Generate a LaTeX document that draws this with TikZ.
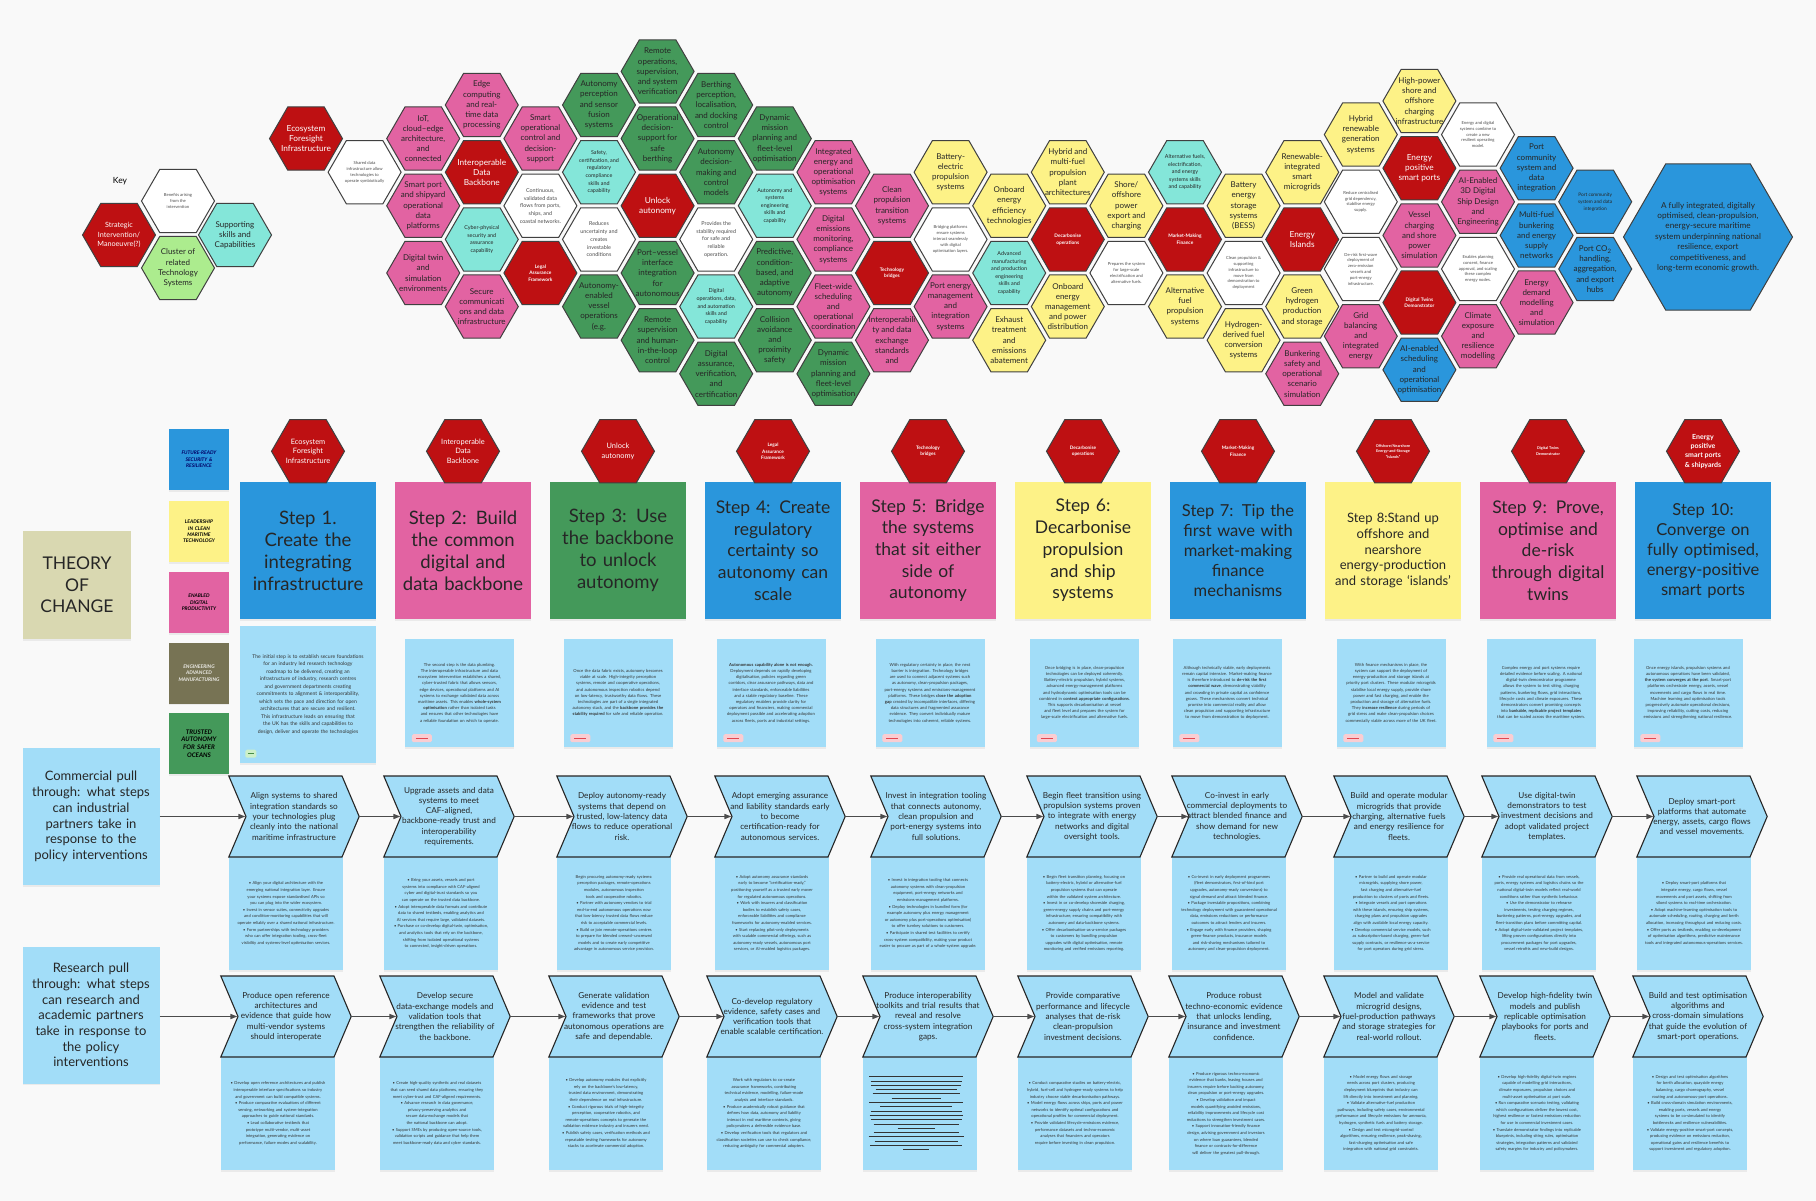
\documentclass[tikz,border=0pt]{standalone}
\usepackage{fontspec}
\setmainfont{Lato}
\usepackage{tikz}
\usetikzlibrary{positioning,shapes.geometric,shapes.symbols,arrows.meta,shadows}
\newcommand{\fsz}[2]{\fontsize{#1}{#2}\selectfont}
\hyphenpenalty=10000
\exhyphenpenalty=10000
\definecolor{pagebg}{RGB}{249,249,249}
\definecolor{hexred}{RGB}{190,16,18}
\definecolor{hexpink}{RGB}{226,99,162}
\definecolor{hexgreen}{RGB}{68,153,90}
\definecolor{hexyellow}{RGB}{253,242,135}
\definecolor{hexcyan}{RGB}{132,230,217}
\definecolor{hexblue}{RGB}{42,150,220}
\definecolor{keygreen}{RGB}{172,236,142}
\definecolor{olive}{RGB}{119,115,84}
\definecolor{theory}{RGB}{217,216,177}
\definecolor{noteblue}{RGB}{162,221,248}
\definecolor{tagred}{RGB}{226,70,80}
\definecolor{tagpink}{RGB}{250,205,210}
\definecolor{taggreen}{RGB}{70,140,70}
\definecolor{tagmint}{RGB}{205,240,200}

\begin{document}
\begin{tikzpicture}[x=1pt,y=-1pt,
    hexa/.style={regular polygon,regular polygon sides=6,minimum size=73pt,inner sep=0pt,draw=black!75,line width=1pt},
    hextxt/.style={align=center,inner sep=0pt,text=black!85},
    hxred/.style={fill=hexred},   htred/.style={text=white,font=\fsz{8.3}{10}},
    hxrsm/.style={fill=hexred},   htrsm/.style={text=white,font=\bfseries\fsz{4.8}{6.6}},
    hxpink/.style={fill=hexpink}, htpink/.style={font=\fsz{8}{10.2}},
    hxgreen/.style={fill=hexgreen}, htgreen/.style={font=\fsz{8}{10.2}},
    hxyellow/.style={fill=hexyellow}, htyellow/.style={font=\fsz{8}{10.2}},
    hxblue/.style={fill=hexblue}, htblue/.style={font=\fsz{8}{10.2}},
    hxbsm/.style={fill=hexblue},  htbsm/.style={font=\fsz{4.8}{7}},
    hxcyan/.style={fill=hexcyan}, htcyan/.style={font=\fsz{5.4}{7.6}},
    hxwhite/.style={fill=white},  htwhite/.style={font=\fsz{5.4}{7.7},text=black!70},
    hxwsm/.style={fill=white},    htwsm/.style={font=\fsz{4.2}{5.8},text=black!70},
    note/.style={drop shadow={opacity=0.12,shadow xshift=0pt,shadow yshift=-1.5pt}},
    stepbox/.style={rectangle,note,minimum width=136pt,minimum height=137pt,text width=132pt,align=center,inner sep=0pt,text=black!85},
    sta/.style={font=\fsz{18.5}{22}}, stb/.style={font=\fsz{17.5}{21.7}},
    stc/.style={font=\fsz{16.5}{20}}, std/.style={font=\fsz{13}{15.7}},
    sdesc/.style={rectangle,note,fill=noteblue,minimum width=109pt,minimum height=108pt,text width=92pt,align=center,inner sep=0pt,font=\fsz{4.2}{6.2},text=black!80},
    tagbox/.style={rectangle,rounded corners=1.5pt,fill=tagpink,minimum width=20pt,minimum height=8pt,inner sep=0pt},
    cdesc/.style={rectangle,note,fill=noteblue,minimum width=114pt,minimum height=113pt,text width=98pt,align=center,inner sep=0pt,font=\fsz{4.1}{6.6},text=black!80},
    chev/.style={signal,signal to=east,signal from=west,signal pointer angle=134,fill=noteblue,draw=black!85,line width=1.1pt,minimum width=130pt,minimum height=81pt,inner ysep=1pt,inner xsep=-5pt,text width=106pt,align=center,font=\fsz{8.2}{10.3},text=black!85},
    pull/.style={rectangle,note,fill=noteblue,minimum width=137pt,minimum height=137pt,text width=124pt,align=center,font=\fsz{13}{15.7},text=black!85},
    theme/.style={rectangle,note,minimum width=60pt,minimum height=61pt,text width=56pt,align=center,inner sep=0pt,font=\bfseries\itshape\fsz{5}{6.3}},
    flow/.style={-{Triangle[length=7pt,width=5pt]},line width=1.5pt,draw=black!70}
    ]
    \fill[pagebg] (0,0) rectangle (1816,1201);
    \useasboundingbox (0,0) rectangle (1816,1201);

    % the key
    \node[font=\fsz{8.5}{10}] (key) at (120,181) {Key};
    \node[hexa,fill=hexred] (k1) at (119,235) {};
    \node[hextxt,text=white,font=\fsz{7.2}{9.6}] (k1t) at (k1) {Strategic\\Intervention/\\Manoeuvre(?)};
    \node[hexa,fill=white] (k2) at (178,201) {};
    \node[hextxt,htwsm] (k2t) at (k2) {Benefits arising\\from the\\intervention};
    \node[hexa,fill=keygreen] (k3) at (178,268) {};
    \node[hextxt,font=\fsz{8}{10.2}] (k3t) at (k3) {Cluster of\\related\\Technology\\Systems};
    \node[hexa,fill=hexcyan] (k4) at (235,235) {};
    \node[hextxt,font=\fsz{8}{10.2}] (k4t) at (k4) {Supporting\\skills and\\Capabilities};

    % the hexagon cluster
    \foreach \c/\r/\col/\txt in {
      0/2/red/{Ecosystem\\Foresight\\Infrastructure},
      1/3/wsm/{Shared data\\infrastructure allow\\technologies to\\operate symbiotically},
      2/2/pink/{IoT,\\cloud–edge\\architecture,\\and\\connected},
      2/4/pink/{Smart port\\and shipyard\\operational\\data\\platforms},
      2/6/pink/{Digital twin\\and\\simulation\\environments},
      3/1/pink/{Edge\\computing\\and real-\\time data\\processing},
      3/3/red/{Interoperable\\Data\\Backbone},
      3/5/cyan/{Cyber-physical\\security and\\assurance\\capability},
      3/7/pink/{Secure\\communicati\\ons and data\\infrastructure},
      4/2/pink/{Smart\\operational\\control and\\decision-\\support},
      4/4/white/{Continuous,\\validated data\\flows from ports,\\ships, and\\coastal networks.},
      4/6/rsm/{Legal\\Assurance\\Framework},
      5/1/green/{Autonomy\\perception\\and sensor\\fusion\\systems},
      5/3/cyan/{Safety,\\certification, and\\regulatory\\compliance\\skills and\\capability},
      5/5/white/{Reduces\\uncertainty and\\creates\\investable\\conditions},
      5/7/green/{Autonomy-\\enabled\\vessel\\operations\\(e.g.},
      6/0/green/{Remote\\operations,\\supervision,\\and system\\verification},
      6/2/green/{Operational\\decision-\\support for\\safe\\berthing},
      6/4/red/{Unlock\\autonomy},
      6/6/green/{Port–vessel\\interface\\integration\\for\\autonomous},
      6/8/green/{Remote\\supervision\\and human-\\in-the-loop\\control},
      7/1/green/{Berthing\\perception,\\localisation,\\and docking\\control},
      7/3/green/{Autonomy\\decision-\\making and\\control\\models},
      7/5/white/{Provides the\\stability required\\for safe and\\reliable\\operation.},
      7/7/cyan/{Digital\\operations, data,\\and automation\\skills and\\capability},
      7/9/green/{Digital\\assurance,\\verification,\\and\\certification},
      8/2/green/{Dynamic\\mission\\planning and\\fleet-level\\optimisation},
      8/4/cyan/{Autonomy and\\systems\\engineering\\skills and\\capability},
      8/6/green/{Predictive,\\condition-\\based, and\\adaptive\\autonomy},
      8/8/green/{Collision\\avoidance\\and\\proximity\\safety},
      9/3/pink/{Integrated\\energy and\\operational\\optimisation\\systems},
      9/5/pink/{Digital\\emissions\\monitoring,\\compliance\\systems},
      9/7/pink/{Fleet-wide\\scheduling\\and\\operational\\coordination},
      9/9/green/{Dynamic\\mission\\planning and\\fleet-level\\optimisation},
      10/4/pink/{Clean\\propulsion\\transition\\systems},
      10/6/rsm/{Technology\\bridges},
      10/8/pink/{Interoperabili\\ty and data\\exchange\\standards\\and},
      11/3/yellow/{Battery-\\electric\\propulsion\\systems},
      11/5/wsm/{Bridging platforms\\ensure systems\\interact seamlessly\\with digital\\optimisation layers.},
      11/7/pink/{Port energy\\management\\and\\integration\\systems},
      12/4/yellow/{Onboard\\energy\\efficiency\\technologies},
      12/6/cyan/{Advanced\\manufacturing\\and production\\engineering\\skills and\\capability},
      12/8/yellow/{Exhaust\\treatment\\and\\emissions\\abatement},
      13/3/yellow/{Hybrid and\\multi-fuel\\propulsion\\plant\\architectures},
      13/5/rsm/{Decarbonise\\operations},
      13/7/yellow/{Onboard\\energy\\management\\and power\\distribution},
      14/4/yellow/{Shore/\\offshore\\power\\export and\\charging},
      14/6/wsm/{Prepares the system\\for large-scale\\electrification and\\alternative fuels.},
      15/3/cyan/{Alternative fuels,\\electrification,\\and energy\\systems skills\\and capability},
      15/5/rsm/{Market-Making\\Finance},
      15/7/yellow/{Alternative\\fuel\\propulsion\\systems},
      16/4/yellow/{Battery\\energy\\storage\\systems\\(BESS)},
      16/6/wsm/{Clean propulsion \&\\supporting\\infrastructure to\\move from\\demonstration to\\deployment},
      16/8/yellow/{Hydrogen-\\derived fuel\\conversion\\systems},
      17/3/yellow/{Renewable-\\integrated\\smart\\microgrids},
      17/5/red/{Energy\\Islands},
      17/7/yellow/{Green\\hydrogen\\production\\and storage},
      17/9/pink/{Bunkering\\safety and\\operational\\scenario\\simulation},
      18/2/yellow/{Hybrid\\renewable\\generation\\systems},
      18/4/wsm/{Reduce centralised\\grid dependency,\\stabilise energy\\supply.},
      18/6/wsm/{De-risk first-wave\\deployment of\\zero-emission\\vessels and\\port-energy\\infrastructure.},
      18/8/pink/{Grid\\balancing\\and\\integrated\\energy},
      19/1/yellow/{High-power\\shore and\\offshore\\charging\\infrastructure},
      19/3/red/{Energy\\positive\\smart ports},
      19/5/pink/{Vessel\\charging\\and shore\\power\\simulation},
      19/7/rsm/{Digital Twins\\Demonstrator},
      19/9/blue/{AI-enabled\\scheduling\\and\\operational\\optimisation},
      20/2/wsm/{Energy and digital\\systems combine to\\create a new\\resilient operating\\model.},
      20/4/pink/{AI-Enabled\\3D Digital\\Ship Design\\and\\Engineering},
      20/6/wsm/{Enables planning\\consent, finance\\approval, and scaling\\these complex\\energy nodes.},
      20/8/pink/{Climate\\exposure\\and\\resilience\\modelling},
      21/3/blue/{Port\\community\\system and\\data\\integration},
      21/5/blue/{Multi-fuel\\bunkering\\and energy\\supply\\networks},
      21/7/pink/{Energy\\demand\\modelling\\and\\simulation},
      22/4/bsm/{Port community\\system and data\\integration},
      22/6/blue/{Port CO\textsubscript{2}\\handling,\\aggregation,\\and export\\hubs}}
    {
      \node[hexa,hx\col] (h\c-\r) at ({306+58.6*\c},{71.4+33.6*\r-4*(\c>17)}) {};
      \node[hextxt,ht\col] (t\c-\r) at (h\c-\r) {\txt};
    }
    % the outcome
    \node[hexa,fill=hexblue,minimum size=169pt] (goal) at (1708,237) {};
    \node[hextxt,font=\fsz{8.2}{10.4}] (goalt) at (goal) {A fully integrated, digitally\\optimised, clean-propulsion,\\energy-secure maritime\\system underpinning national\\resilience, export\\competitiveness, and\\long-term economic growth.};

    % theory of change and the themes
    \node[rectangle,note,fill=theory,minimum width=108pt,minimum height=108pt,align=center,font=\fsz{17.5}{21.7},text=black!85] (toc) at (77,585) {THEORY\\OF\\CHANGE};
    \node[theme,fill=hexblue,text=blue!40!black] (th1) at (199,459.5) {FUTURE-READY\\SECURITY \&\\RESILIENCE};
    \node[theme,fill=hexyellow] (th2) at (199,531.5) {LEADERSHIP\\IN CLEAN\\MARITIME\\TECHNOLOGY};
    \node[theme,fill=hexpink] (th3) at (199,602.5) {ENABLED\\DIGITAL\\PRODUCTIVITY};
    \node[theme,fill=olive,text=white!85!olive] (th4) at (199,673) {ENGINEERING\\ADVANCED\\MANUFACTURING};
    \node[theme,fill=hexgreen,font=\bfseries\itshape\fsz{6.3}{7.6}] (th5) at (199,743.5) {TRUSTED\\AUTONOMY\\FOR SAFER\\OCEANS};

    % the steps
    \foreach \i/\col/\sz/\txt in {
      1/blue/a/{Step 1.\\Create the\\integrating\\infrastructure},
      2/pink/a/{Step 2: Build\\the common\\digital and\\data backbone},
      3/green/a/{Step 3: Use\\the backbone\\to unlock\\autonomy},
      4/blue/b/{Step 4: Create\\regulatory\\certainty so\\autonomy can\\scale},
      5/pink/b/{Step 5: Bridge\\the systems\\that sit either\\side of\\autonomy},
      6/yellow/b/{Step 6:\\Decarbonise\\propulsion\\and ship\\systems},
      7/blue/c/{Step 7: Tip the\\first wave with\\market-making\\finance\\mechanisms},
      8/yellow/d/{Step 8:Stand up\\offshore and\\nearshore\\energy-production\\and storage ‘islands’},
      9/pink/b/{Step 9: Prove,\\optimise and\\de-risk\\through digital\\twins},
      10/blue/c/{Step 10:\\Converge on\\fully optimised,\\energy-positive\\smart ports}}
      \node[stepbox,fill=hex\col,st\sz] (s\i) at ({308+155*(\i-1)},550.5) {\txt};

    % the interventions above the steps
    \foreach \i/\ft/\txt in {
      1/{\fsz{7.4}{9.5}}/{Ecosystem\\Foresight\\Infrastructure},
      2/{\fsz{7.4}{9.5}}/{Interoperable\\Data\\Backbone},
      3/{\fsz{7.4}{9.5}}/{Unlock\\autonomy},
      4/{\bfseries\fsz{4.7}{6.6}}/{Legal\\Assurance\\Framework},
      5/{\bfseries\fsz{4.7}{6.6}}/{Technology\\bridges},
      6/{\bfseries\fsz{4.7}{6.6}}/{Decarbonise\\operations},
      7/{\bfseries\fsz{4.7}{6.6}}/{Market-Making\\Finance},
      8/{\bfseries\fsz{3.8}{5.6}}/{Offshore/Nearshore\\Energy-and-Storage\\“Islands”},
      9/{\bfseries\fsz{3.8}{5.6}}/{Digital Twins\\Demonstrator},
      10/{\bfseries\fsz{7}{9.2}}/{Energy\\positive\\smart ports\\\& shipyards}}
    {
      \node[hexa,fill=hexred,above=-1.6pt of s\i] (sh\i) {};
      \node[hextxt,text=white,font=\ft] (sht\i) at (sh\i) {\txt};
    }

    % the step notes
    \node[sdesc,minimum width=136pt,minimum height=137pt,text width=114pt,font=\fsz{5.1}{7.5}] (d1) at (308,694.5)
      {The initial step is to establish secure foundations for an industry led research technology roadmap to be delivered, creating an infrastructure of industry, research centres and government departments creating commitments to alignment \& interoperability, which sets the pace and direction for open architectures that are secure and resilient. This infrastructure leads on ensuring that the UK has the skills and capabilities to design, deliver and operate the technologies};
    \node[tagbox,fill=tagmint,minimum width=11pt] (g1) at ([shift={(11,-9.5)}]d1.south west) {\textcolor{taggreen}{\rule{6pt}{1.2pt}}};
    \foreach \i/\x/\txt in {
      2/459.5/{The second step is the data plumbing. The interoperable infrastructure and data ecosystem intervention establishes a shared, cyber-trusted fabric that allows sensors, edge devices, operational platforms and AI systems to exchange validated data across maritime assets. This enables \textbf{whole-system optimisation} rather than isolated tasks and ensures that other technologies have a reliable foundation on which to operate.},
      3/618/{Once the data fabric exists, autonomy becomes viable at scale. High-integrity perception systems, remote and cooperative operations, and autonomous inspection robotics depend on low-latency, trustworthy data flows. These technologies are part of a single integrated autonomy stack, and the \textbf{backbone provides the stability required} for safe and reliable operation.},
      4/771/{\textbf{Autonomous capability alone is not enough.} Deployment depends on rapidly developing digitalisation, policies regarding green corridors, clear assurance pathways, data and interface standards, enforceable liabilities and a stable regulatory baseline. These regulatory enablers provide clarity for operators and financiers, making commercial deployment possible and accelerating adoption across fleets, ports and industrial settings.},
      5/930/{With regulatory certainty in place, the next barrier is integration. Technology bridges are used to connect adjacent systems such as autonomy, clean-propulsion packages, port-energy systems and emissions-management platforms. These bridges \textbf{close the adoption gap} created by incompatible interfaces, differing data structures and fragmented assurance evidence. They convert individually mature technologies into coherent, reliable systems.},
      6/1084.5/{Once bridging is in place, clean-propulsion technologies can be deployed coherently. Battery-electric propulsion, hybrid systems, advanced energy-management platforms and hydrodynamic optimisation tools can be combined in \textbf{context appropriate configurations}. This supports decarbonisation at vessel and fleet level and prepares the system for large-scale electrification and alternative fuels.},
      7/1227/{Although technically viable, early deployments remain capital intensive. Market-making finance is therefore introduced to \textbf{de-risk the first commercial wave}, demonstrating viability and crowding in private capital as confidence grows. These mechanisms convert technical promise into commercial reality and allow clean propulsion and supporting infrastructure to move from demonstration to deployment.},
      8/1391/{With finance mechanisms in place, the system can support the deployment of energy-production and storage islands at priority port clusters. These modular microgrids stabilise local energy supply, provide shore power and fast charging, and enable the production and storage of alternative fuels. They \textbf{increase resilience} during periods of grid stress and make clean-propulsion choices commercially viable across more of the UK fleet.},
      9/1541/{Complex energy and port systems require detailed evidence before scaling. A national digital-twin demonstrator programme allows the system to test siting, charging patterns, bunkering flows, grid interactions, lifecycle costs and climate exposures. These demonstrators convert promising concepts into \textbf{bankable, replicable project templates} that can be scaled across the maritime system.},
      10/1688/{Once energy islands, propulsion systems and autonomous operations have been validated, \textbf{the system converges at the port}. Smart-port platforms orchestrate energy, assets, vessel movements and cargo flows in real time. Machine learning and optimisation tools progressively automate operational decisions, improving reliability, cutting costs, reducing emissions and strengthening national resilience.}}
    {
      \node[sdesc] (d\i) at (\x,693) {\txt};
      \node[tagbox] (g\i) at ([shift={(17,-9)}]d\i.south west) {\textcolor{tagred}{\rule{12pt}{1.2pt}}};
    }

    % commercial pull through
    \node[pull] (com) at (91,816.5) {Commercial pull\\through: what steps\\can industrial\\partners take in\\response to the\\policy interventions};
    \foreach \i/\x/\txt/\dtxt in {
      1/229/{Align systems to shared\\integration standards so\\your technologies plug\\cleanly into the national\\maritime infrastructure}/{• Align your digital architecture with the emerging national integration layer. Ensure your systems expose standardised APIs so you can plug into the wider ecosystem.\\• Invest in sensor suites, connectivity upgrades and condition-monitoring capabilities that will operate reliably over a shared national infrastructure.\\• Form partnerships with technology providers who can offer integration tooling, cross-fleet visibility and systems-level optimisation services.},
      2/384/{Upgrade assets and data\\systems to meet\\CAF-aligned,\\backbone-ready trust and\\interoperability\\requirements.}/{• Bring your assets, vessels and port systems into compliance with CAF-aligned cyber and digital-trust standards so you can operate on the trusted data backbone.\\• Adopt interoperable data formats and contribute data to shared testbeds, enabling analytics and AI services that require large, validated datasets.\\• Purchase or co-develop digital-twin, optimisation, and analytics tools that rely on the backbone, shifting from isolated operational systems to connected, insight-driven operations.},
      3/557/{Deploy autonomy-ready\\systems that depend on\\trusted, low-latency data\\flows to reduce operational\\risk.}/{Begin procuring autonomy-ready systems: perception packages, remote-operations modules, autonomous inspection tools and cooperative robotics.\\• Partner with autonomy vendors to trial end-to-end autonomous operations now that low-latency trusted data flows reduce risk to acceptable commercial levels.\\• Build or join remote-operations centres to prepare for blended crewed–uncrewed models and to create early competitive advantage in autonomous service provision.},
      4/715/{Adopt emerging assurance\\and liability standards early\\to become\\certification-ready for\\autonomous services.}/{• Adopt autonomy assurance standards early to become “certification-ready,” positioning yourself as a trusted early mover for regulated autonomous operations.\\• Work with insurers and classification bodies to establish safety cases, enforceable liabilities and compliance frameworks for autonomy-enabled services.\\• Start replacing pilot-only deployments with scalable commercial offerings, such as autonomy-ready vessels, autonomous port services, or AI-enabled logistics packages.},
      5/871/{Invest in integration tooling\\that connects autonomy,\\clean propulsion and\\port-energy systems into\\full solutions.}/{• Invest in integration tooling that connects autonomy systems with clean-propulsion equipment, port-energy networks and emissions-management platforms.\\• Deploy technologies in bundled form (for example autonomy plus energy management or autonomy plus port-operations optimisation) to offer turnkey solutions to customers.\\• Participate in shared test facilities to certify cross-system compatibility, making your product easier to procure as part of a whole-system upgrade.},
      6/1027/{Begin fleet transition using\\propulsion systems proven\\to integrate with energy\\networks and digital\\oversight tools.}/{• Begin fleet transition planning, focusing on battery-electric, hybrid or alternative-fuel propulsion systems that can operate within the validated system architecture.\\• Invest in or co-develop shoreside charging, green-energy supply chains and port-energy infrastructure, ensuring compatibility with autonomy and data-backbone systems.\\• Offer decarbonisation-as-a-service packages to customers by bundling propulsion upgrades with digital optimisation, remote monitoring and verified emissions reporting.},
      7/1172/{Co-invest in early\\commercial deployments to\\attract blended finance and\\show demand for new\\technologies.}/{• Co-invest in early deployment programmes (fleet demonstrators, first-of-kind port upgrades, autonomy-ready conversions) to signal demand and attract blended finance.\\• Package investable propositions, combining technology deployment with guaranteed operational data, emissions reductions or performance outcomes to attract lenders and insurers.\\• Engage early with finance providers, shaping green-finance products, insurance models and risk-sharing mechanisms tailored to autonomy and clean-propulsion deployment.},
      8/1334/{Build and operate modular\\microgrids that provide\\charging, alternative fuels\\and energy resilience for\\fleets.}/{• Partner to build and operate modular microgrids, supplying shore power, fast charging and alternative-fuel production to clusters of ports and fleets.\\• Integrate vessels and port operations with these islands, ensuring ship systems, charging plans and propulsion upgrades align with available local energy capacity.\\• Develop commercial service models, such as subscription-based charging, green-fuel supply contracts, or resilience-as-a-service for port operators during grid stress.},
      9/1482/{Use digital-twin\\demonstrators to test\\investment decisions and\\adopt validated project\\templates.}/{• Provide real operational data from vessels, ports, energy systems and logistics chains so the national digital-twin models reflect real-world conditions rather than synthetic behaviour.\\• Use the demonstrator to rehearse investments, testing charging regimes, bunkering patterns, port-energy upgrades, and fleet-transition plans before committing capital.\\• Adopt digital-twin-validated project templates, lifting proven configurations directly into procurement packages for port upgrades, vessel retrofits and new-build designs.},
      10/1637/{Deploy smart-port\\platforms that automate\\energy, assets, cargo flows\\and vessel movements.}/{• Deploy smart-port platforms that integrate energy, cargo flows, vessel movements and port assets, shifting from siloed systems to real-time orchestration.\\• Adopt machine-learning optimisation tools to automate scheduling, routing, charging and berth allocation, increasing throughput and reducing costs.\\• Offer ports as testbeds, enabling co-development of optimisation algorithms, predictive maintenance tools and integrated autonomous-operations services.}}
    {
      \node[cdesc] (cd\i) at ({\x+57},913.5) {\dtxt};
      \node[chev] (c\i) at ({\x+65},816.5) {\txt};
    }

    % research pull through
    \node[pull] (res) at (91,1015) {Research pull\\through: what steps\\can research and\\academic partners\\take in response to\\the policy\\interventions};
    \foreach \i/\x/\txt/\dtxt in {
      1/221/{Produce open reference\\architectures and\\evidence that guide how\\multi-vendor systems\\should interoperate}/{• Develop open reference architectures and publish interoperable interface specifications so industry and government can build compatible systems.\\• Produce comparative evaluations of different sensing, networking and system-integration approaches to guide national standards.\\• Lead collaborative testbeds that prototype multi-vendor, multi-asset integration, generating evidence on performance, failure modes and scalability.},
      2/380/{Develop secure\\data-exchange models and\\validation tools that\\strengthen the reliability of\\the backbone.}/{• Create high-quality synthetic and real datasets that can seed shared data platforms, ensuring they meet cyber-trust and CAF-aligned requirements.\\• Advance research in data governance, privacy-preserving analytics and secure data-exchange models that the national backbone can adopt.\\• Support SMEs by producing open-source tools, validation scripts and guidance that help them meet backbone-ready data and cyber standards.},
      3/549/{Generate validation\\evidence and test\\frameworks that prove\\autonomous operations are\\safe and dependable.}/{• Develop autonomy modules that explicitly rely on the backbone's low-latency, trusted data environment, demonstrating their dependence on real infrastructure.\\• Conduct rigorous trials of high-integrity perception, cooperative robotics, and remote-operations concepts to generate the validation evidence industry and insurers need.\\• Publish safety cases, verification methods and repeatable testing frameworks for autonomy stacks to accelerate commercial adoption.},
      4/707/{Co-develop regulatory\\evidence, safety cases and\\verification tools that\\enable scalable certification.}/{Work with regulators to co-create assurance frameworks, contributing technical evidence, modelling, failure-mode analysis and interface standards.\\• Produce academically robust guidance that defines how data, autonomy and liability interact in real maritime contexts, giving policymakers a defensible evidence base.\\• Develop verification tools that regulators and classification societies can use to check compliance, reducing ambiguity for commercial adopters.},
      5/863/{Produce interoperability\\toolkits and trial results that\\reveal and resolve\\cross-system integration\\gaps.}/{},
      6/1018/{Provide comparative\\performance and lifecycle\\analyses that de-risk\\clean-propulsion\\investment decisions.}/{• Conduct comparative studies on battery-electric, hybrid, fuel-cell and hydrogen-ready systems to help industry choose viable decarbonisation pathways.\\• Model energy flows across ships, ports and power networks to identify optimal configurations and operational profiles for commercial deployment.\\• Provide validated lifecycle-emissions evidence, performance datasets and techno-economic analyses that financiers and operators require before investing in clean propulsion.},
      7/1169/{Produce robust\\techno-economic evidence\\that unlocks lending,\\insurance and investment\\confidence.}/{• Produce rigorous techno-economic evidence that banks, leasing houses and insurers require before backing autonomy, clean propulsion or port-energy upgrades.\\• Develop validation and impact models quantifying avoided emissions, reliability improvements and lifecycle cost reductions to strengthen investment cases.\\• Support innovation-friendly finance design, advising government and investors on where loan guarantees, blended finance or contracts-for-difference will deliver the greatest pull-through.},
      8/1324/{Model and validate\\microgrid designs,\\fuel-production pathways\\and storage strategies for\\real-world rollout.}/{• Model energy flows and storage needs across port clusters, producing deployment blueprints that industry can lift directly into investment and planning.\\• Validate alternative-fuel production pathways, including safety cases, environmental performance and lifecycle emissions for ammonia, hydrogen, synthetic fuels and battery storage.\\• Design and test microgrid-control algorithms, ensuring resilience, peak-shaving, fast-charging optimisation and safe integration with national grid constraints.},
      9/1480/{Develop high-fidelity twin\\models and publish\\replicable optimisation\\playbooks for ports and\\fleets.}/{• Develop high-fidelity digital-twin engines capable of modelling grid interactions, climate exposures, propulsion choices and multi-asset optimisation at port scale.\\• Run comparative scenario testing, validating which configurations deliver the lowest cost, highest resilience or fastest emissions reduction for use in commercial investment cases.\\• Translate demonstrator findings into replicable blueprints, including siting rules, optimisation strategies, integration patterns and validated safety margins for industry and policymakers.},
      10/1633/{Build and test optimisation\\algorithms and\\cross-domain simulations\\that guide the evolution of\\smart-port operations.}/{• Design and test optimisation algorithms for berth allocation, quayside energy balancing, cargo choreography, vessel routing and autonomous-port operations.\\• Build cross-domain simulation environments, enabling ports, vessels and energy systems to be co-simulated to identify bottlenecks and resilience vulnerabilities.\\• Validate energy-positive smart-port concepts, producing evidence on emissions reduction, operational gains and resilience benefits to support investment and regulatory adoption.}}
    {
      \node[cdesc] (rd\i) at ({\x+57},1113.5) {\dtxt};
      \node[chev] (r\i) at ({\x+65},1016.5) {\txt};
    }
    % the struck-out note
    \foreach \n/\w in {0/94,1/91,2/90,3/81,4/87,5/49,6/94,7/72,8/91,9/93,10/91,11/85,12/37,13/85,14/95,15/83,16/92,17/26}
      \draw[line width=0.9pt,black!80] ({916-\w/2},{1076.7+4.3*\n}) -- ++(\w,0);

    % the pull-through arrows
    \draw[flow] (com.east |- c1.west) -- (c1.west);
    \draw[flow] (res.east |- r1.west) -- (r1.west);
    \foreach \i [evaluate=\i as \j using int(\i+1)] in {1,...,9} {
      \draw[flow] (c\i.east) -- (c\j.west);
      \draw[flow] (r\i.east) -- (r\j.west);
    }
\end{tikzpicture}
\end{document}
